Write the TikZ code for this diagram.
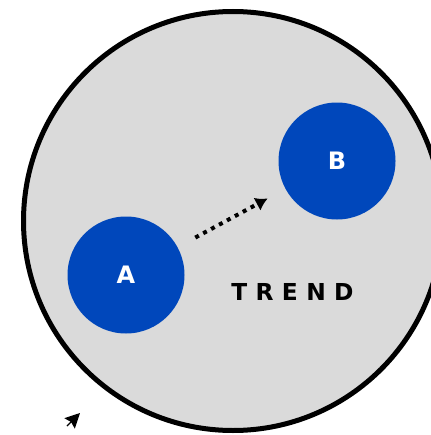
\documentclass[tikz,border=0pt]{standalone}
\usepackage{fontspec}
\setsansfont{DejaVu Sans}
\newfontfamily\trendfont[LetterSpace=36]{DejaVu Sans}
\usetikzlibrary{arrows.meta}
\definecolor{poolgray}{HTML}{DADADA}
\definecolor{bubbleblue}{HTML}{0047BB}

\begin{document}
\begin{tikzpicture}[x=0.75pt,y=-0.75pt,
  bubble/.style={circle,fill=bubbleblue,minimum size=87.75pt,inner sep=0pt,text=white,font=\sffamily\bfseries\fontsize{18}{20}\selectfont}]
\useasboundingbox (0,0) rectangle (431,435);
\clip (0,0) rectangle (431,435);
\node[circle,draw=black,line width=3.75pt,fill=poolgray,minimum size=314.25pt] (pool) at (233,221) {};
\node[bubble] (a) at (126,275) {A};
\node[bubble] (b) at (337,161) {B};
\node[anchor=west,inner sep=0pt,font=\trendfont\bfseries\fontsize{17.5}{20}\selectfont] (trend) at (231,291.5) {TREND};
\draw[line width=3pt,dash pattern=on 3pt off 3.75pt,-{Latex[length=9pt,width=11pt]},shorten <=15pt,shorten >=15pt] (a) -- (b);
\coordinate (s) at (67,426);
\coordinate (t) at (80,413);
\draw[line width=1pt,-{Stealth[length=11pt,width=11pt,inset=1.5pt]}] (s) -- (t);
\end{tikzpicture}
\end{document}
